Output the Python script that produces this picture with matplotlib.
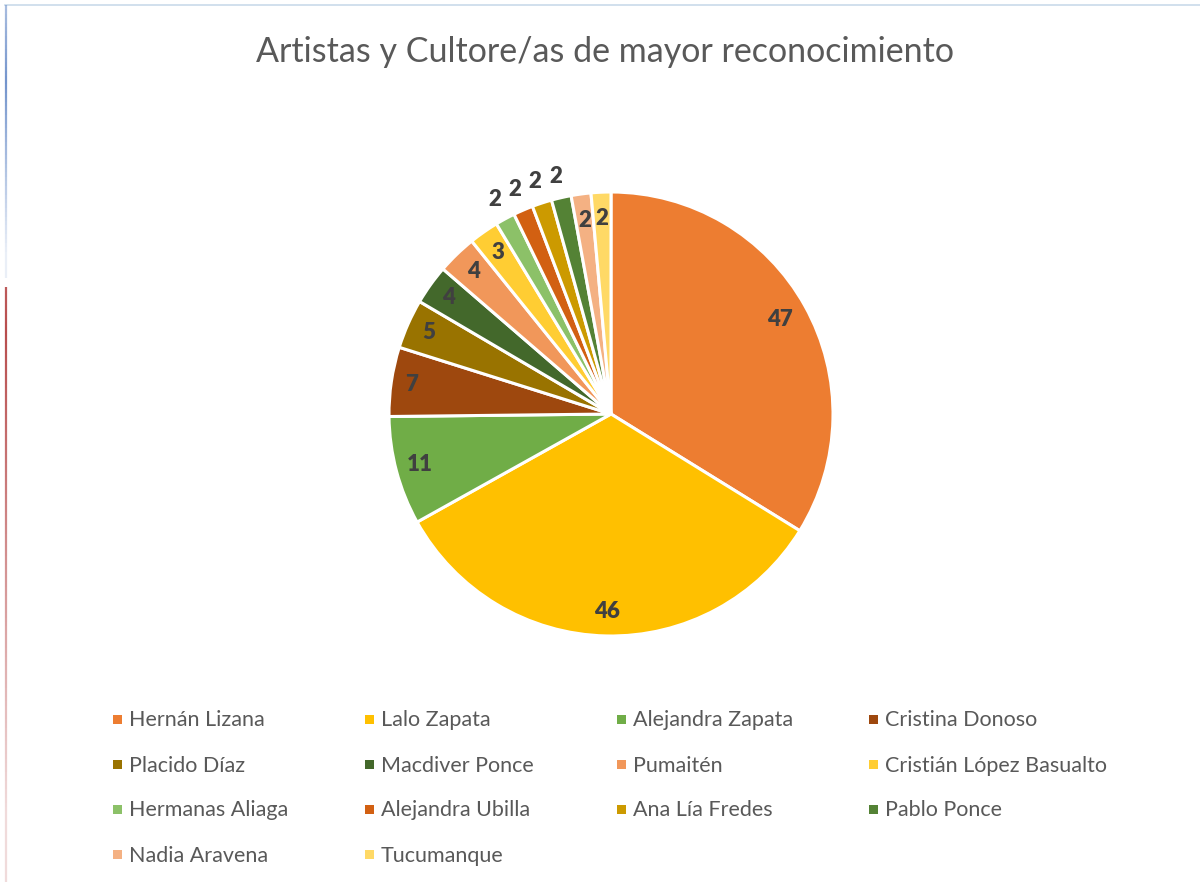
import numpy as np
import matplotlib
matplotlib.use("Agg")
import matplotlib.pyplot as plt
from matplotlib.patches import Rectangle
from matplotlib.collections import LineCollection

names = ["Hernán Lizana", "Lalo Zapata", "Alejandra Zapata", "Cristina Donoso",
         "Placido Díaz", "Macdiver Ponce", "Pumaitén", "Cristián López Basualto",
         "Hermanas Aliaga", "Alejandra Ubilla", "Ana Lía Fredes", "Pablo Ponce",
         "Nadia Aravena", "Tucumanque"]
values = [47, 46, 11, 7, 5, 4, 4, 3, 2, 2, 2, 2, 2, 2]
colors = ["#ED7D31", "#FFC000", "#70AD47", "#9E480E", "#997300", "#43682B",
          "#F1975A", "#FFCD33", "#8CC168", "#D26012", "#CC9A00", "#548235",
          "#F4B183", "#FFD966"]
# label distance as a fraction of the radius (outside for some tiny slices)
label_r = [0.87, 0.89, 0.89, 0.91, 0.9, 0.9, 0.89, 0.89, 1.1, 1.1, 1.1, 1.1, 0.88, 0.88]

W, H = 1200, 882
plt.rcParams["font.family"] = ["Lato", "DejaVu Sans"]
fig = plt.figure(figsize=(W / 100, H / 100), dpi=100)
ax = fig.add_axes([0, 0, 1, 1])

cx, cy, R = 611, H - 414, 222
wedges, _ = ax.pie(values, colors=colors, startangle=90, counterclock=False,
                   center=(cx, cy), radius=R,
                   wedgeprops=dict(edgecolor="white", linewidth=2.2))
ax.set_xlim(0, W)
ax.set_ylim(0, H)
ax.set_aspect("equal")
ax.axis("off")

for w, v, lr in zip(wedges, values, label_r):
    a = np.deg2rad((w.theta1 + w.theta2) / 2)
    ax.text(cx + lr * R * np.cos(a), cy + lr * R * np.sin(a), str(v),
            ha="center", va="center", fontsize=16, fontweight="heavy", color="#404040")

ax.text(605, H - 52, "Artistas y Cultore/as de mayor reconocimiento",
        ha="center", va="center", fontsize=24.5, color="#595959")

# legend, filled row by row like the original
for i, (n, c) in enumerate(zip(names, colors)):
    row, col = divmod(i, 4)
    x = 117 + col * 252
    y = H - (719 + row * 45)
    ax.add_patch(Rectangle((x - 4.5, y - 4.5), 9, 9, color=c, lw=0))
    ax.text(x + 12, y - 1.5, n, ha="left", va="center", fontsize=15.5, color="#595959")

# frame decoration at top and left edge
ax.plot([5, W], [H - 5, H - 5], color="#C9DAEA", lw=1.2)
ys = np.linspace(5, H, 200)
segs = [[(5.5, H - a), (5.5, H - b)] for a, b in zip(ys[:-1], ys[1:])]
seg_cols = []
for a in ys[:-1]:
    if a < 275:
        k = 1 - abs(a - 80) / 200
        seg_cols.append((0.45, 0.58, 0.80, max(0.15, min(1, k))))
    elif a < 285:
        seg_cols.append((1, 1, 1, 0))
    else:
        k = 1 - abs(a - 330) / 600
        seg_cols.append((0.72, 0.30, 0.30, max(0.2, min(1, k))))
ax.add_collection(LineCollection(segs, colors=seg_cols, lw=1.6))

fig.savefig("out.png", dpi=100)
